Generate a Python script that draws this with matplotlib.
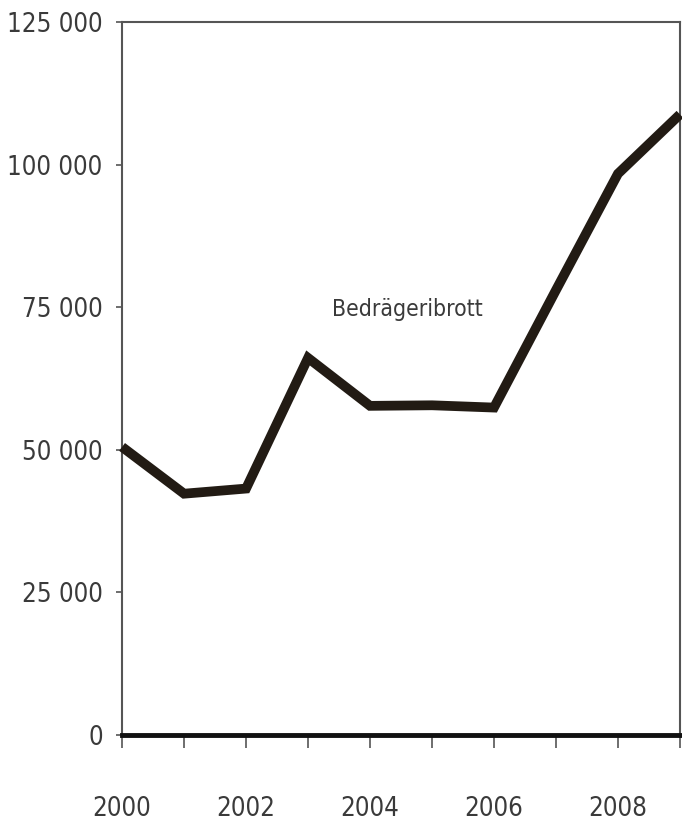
import numpy as np
import matplotlib
matplotlib.use("Agg")
import matplotlib.pyplot as plt
from matplotlib import font_manager

# data
years = [2000, 2001, 2002, 2003, 2004, 2005, 2006, 2007, 2008, 2009]
values = [50500, 42300, 43200, 66100, 57700, 57800, 57400, 78000, 98400, 108800]
series_label = 'Bedrägeribrott'
y_ticks = [0, 25000, 50000, 75000, 100000, 125000]
y_ticklabels = ['0', '25 000', '50 000', '75 000', '100 000', '125 000']
x_ticks = list(range(2000, 2010))
x_ticklabels = [str(y) if y % 2 == 0 else '' for y in x_ticks]

text_color = '#3a3a3a'
line_color = '#221b14'

# the reference uses a narrow sans; look for a condensed face
narrow = None
for f in font_manager.fontManager.ttflist:
    if f.name in ('Liberation Sans Narrow', 'Arial Narrow') and f.weight in (400, 'normal') and f.style == 'normal':
        narrow = f.fname
        break
if narrow is None:
    for f in font_manager.fontManager.ttflist:
        if f.name == 'DejaVu Sans' and 'Condensed' in f.fname and 'Bold' not in f.fname \
                and 'Oblique' not in f.fname:
            narrow = f.fname
            break

if narrow is not None:
    fp = font_manager.FontProperties(fname=narrow)
    tick_size, label_size = 18.5, 16.5
else:
    fp = font_manager.FontProperties(family='DejaVu Sans')
    tick_size, label_size = 16, 15

fig = plt.figure(figsize=(6.82, 8.30), dpi=100)
ax = fig.add_axes([0.179, 0.1145, 0.818, 0.859])

ax.plot(years, values, color=line_color, linewidth=7, solid_joinstyle='miter',
        solid_capstyle='butt', clip_on=False, zorder=3)

ax.set_xlim(2000, 2009)
ax.set_ylim(0, 125000)
ax.set_xticks(x_ticks)
ax.set_xticklabels(x_ticklabels)
ax.set_yticks(y_ticks)
ax.set_yticklabels(y_ticklabels)

ax.tick_params(axis='x', direction='out', length=9, width=1.2, color='#555555',
               pad=35, labelcolor=text_color)
ax.tick_params(axis='y', direction='out', length=4, width=1.2, color='#555555',
               pad=10, labelcolor=text_color)
for lab in ax.get_xticklabels() + ax.get_yticklabels():
    lab.set_fontproperties(fp)
    lab.set_fontsize(tick_size)

for side in ['left', 'top', 'right']:
    ax.spines[side].set_color('#555555')
    ax.spines[side].set_linewidth(1.5)
ax.spines['bottom'].set_color('#111111')
ax.spines['bottom'].set_linewidth(3.5)
ax.spines['bottom'].set_zorder(4)

ax.text(2004.6, 74600, series_label, ha='center', va='center',
        fontproperties=fp, fontsize=label_size, color=text_color)

fig.savefig('out.png', dpi=100)
